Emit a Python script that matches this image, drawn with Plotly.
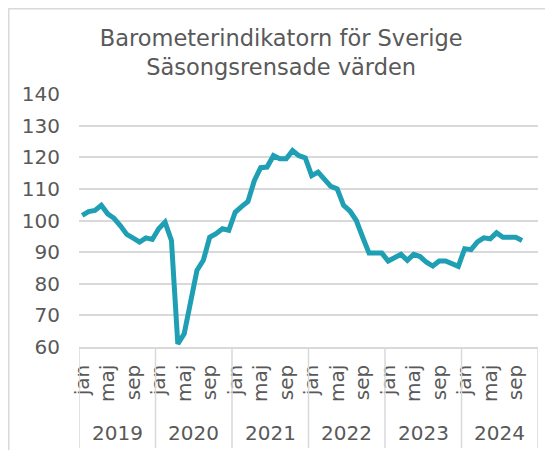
import plotly.graph_objects as go

years = ["2019", "2020", "2021", "2022", "2023", "2024"]
months = ["jan", "feb", "mar", "apr", "maj", "jun", "jul", "aug", "sep", "okt", "nov", "dec"]
tick_months = ["jan", "maj", "sep"]

v2019 = [101.6, 102.8, 103.2, 104.8, 102.1, 100.7, 98.3, 95.6, 94.4, 93.2, 94.5, 94.0]
v2020 = [97.4, 99.5, 93.7, 61.0, 64.2, 74.7, 84.2, 87.4, 94.7, 95.8, 97.4, 96.9]
v2021 = [102.6, 104.4, 106.0, 112.6, 116.7, 116.9, 120.5, 119.5, 119.5, 122.1, 120.5, 119.8]
v2022 = [114.2, 115.3, 113.2, 110.8, 110.0, 104.8, 103.0, 100.0, 94.7, 89.7, 89.7, 89.7]
v2023 = [87.2, 88.4, 89.3, 87.4, 89.3, 88.6, 86.8, 85.6, 87.2, 87.2, 86.3, 85.5]
v2024 = [91.1, 90.8, 93.2, 94.5, 94.2, 96.1, 94.7, 94.7, 94.7, 93.7, None, None]

values = v2019 + v2020 + v2021 + v2022 + v2023 + v2024
x_idx = list(range(len(values)))

tickvals = [i for i in x_idx if months[i % 12] in tick_months]
ticktext = [months[i % 12] for i in tickvals]

TXT = "#595959"
GRID = "#d9d9d9"
FONT = "DejaVu Sans"

# plot area pixel geometry (figure coordinates; page adds an 8px body margin)
L, R, T, B = 71, 530, 86, 339
W, H = 553, 450
pw, ph = R - L, B - T

fig = go.Figure()
fig.add_trace(go.Scatter(
    x=x_idx, y=values, mode="lines",
    line=dict(color="#1f9fb3", width=5),
    connectgaps=False, hoverinfo="skip", showlegend=False,
))

shapes = []
# year dividers below the axis
for k in range(len(years) + 1):
    shapes.append(dict(type="line", xref="x", yref="paper",
                       x0=12 * k - 0.5, x1=12 * k - 0.5,
                       y0=0, y1=-(440 - B) / ph,
                       line=dict(color=GRID, width=1.5)))
# outer chart border
shapes.append(dict(type="rect", xref="paper", yref="paper",
                   x0=(0.75 - L) / pw, x1=(W - 0.75 - L) / pw,
                   y0=-(H - 0.75 - B) / ph, y1=(B - 0.75) / ph,
                   line=dict(color=GRID, width=1.5), fillcolor="rgba(0,0,0,0)"))

annotations = []
for k, yr in enumerate(years):
    annotations.append(dict(x=12 * k + 5.5, xref="x", y=-(425 - B) / ph, yref="paper",
                            text=yr, showarrow=False, xanchor="center", yanchor="middle",
                            font=dict(family=FONT, size=20, color=TXT)))

fig.update_layout(
    width=W, height=H,
    margin=dict(l=L, r=W - R, t=T, b=H - B, autoexpand=False),
    paper_bgcolor="white", plot_bgcolor="white",
    title=dict(text="Barometerindikatorn för Sverige<br>Säsongsrensade värden",
               x=0.494, xref="container", xanchor="center",
               y=1 - 38 / H, yref="container", yanchor="top",
               font=dict(family=FONT, size=22.5, color=TXT)),
    shapes=shapes, annotations=annotations,
    font=dict(family=FONT, color=TXT),
)
fig.update_xaxes(range=[-0.5, 71.5], tickmode="array", tickvals=tickvals, ticktext=ticktext,
                 tickangle=-90, tickfont=dict(family=FONT, size=20, color=TXT),
                 showgrid=False, zeroline=False, showline=True, linecolor=GRID, linewidth=1.5,
                 ticks="", ticklabelstandoff=8)
fig.update_yaxes(range=[60, 140], dtick=10, tick0=60,
                 tickfont=dict(family=FONT, size=20, color=TXT),
                 showgrid=True, gridcolor=GRID, gridwidth=1.5, zeroline=False,
                 showline=False, ticks="", ticklabelstandoff=18)

fig.write_html("out.html")
